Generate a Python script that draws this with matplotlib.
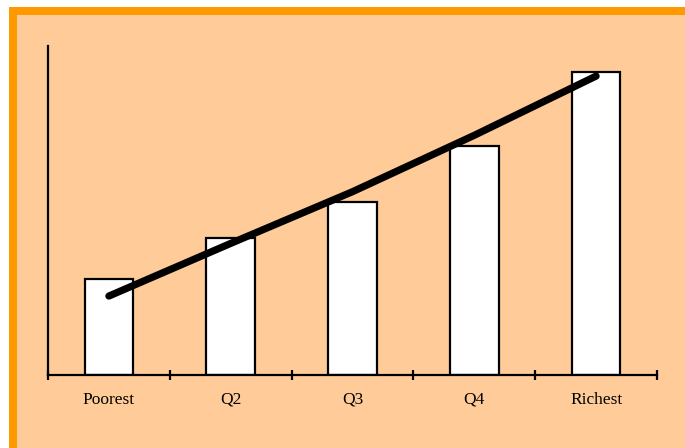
import matplotlib
matplotlib.use("Agg")
import matplotlib.pyplot as plt
from matplotlib.patches import Rectangle

# quintile bars and the trend line drawn over them
groups = ["Poorest", "Q2", "Q3", "Q4", "Richest"]
bar_vals = [10.2, 14.6, 18.4, 24.4, 32.2]
trend_vals = [8.4, 14.0, 19.5, 25.5, 31.8]

plt.rcParams["font.family"] = ["Liberation Serif", "DejaVu Serif"]

fig = plt.figure(figsize=(6.85, 4.48), dpi=100)
fig.patch.set_facecolor("white")

# orange frame with peach panel inside, kept behind the axes
fig.patches.append(Rectangle((9 / 685, 0), 1, 1 - 7 / 448, transform=fig.transFigure,
                             facecolor="#FF9900", edgecolor="none", zorder=-2))
fig.patches.append(Rectangle((17 / 685, 0), 1, 1 - 15 / 448, transform=fig.transFigure,
                             facecolor="#FFCC99", edgecolor="none", zorder=-1))

ax = fig.add_axes([48 / 685, 73 / 448, 609 / 685, 329 / 448])
ax.set_facecolor("none")

x = list(range(len(groups)))
ax.bar(x, bar_vals, width=0.4, color="white", edgecolor="black", linewidth=1.6, zorder=2)
ax.plot(x, trend_vals, color="black", linewidth=5.2, solid_capstyle="round",
        solid_joinstyle="round", zorder=3, clip_on=False)

ax.set_xlim(-0.5, len(groups) - 0.5)
ax.set_ylim(0, 35)

for side in ["top", "right"]:
    ax.spines[side].set_visible(False)
for side in ["left", "bottom"]:
    ax.spines[side].set_linewidth(1.6)
    ax.spines[side].set_color("black")

# tick marks at the category boundaries, labels at the centres
ax.set_xticks([i - 0.5 for i in range(len(groups) + 1)])
ax.set_xticklabels([])
ax.set_xticks(x, minor=True)
ax.set_xticklabels(groups, minor=True, fontsize=12.5)
ax.tick_params(axis="x", which="major", direction="inout", length=7, width=1.6)
ax.tick_params(axis="x", which="minor", length=0, pad=12)
ax.set_yticks([])

fig.savefig("out.png", dpi=100, facecolor=fig.get_facecolor())
